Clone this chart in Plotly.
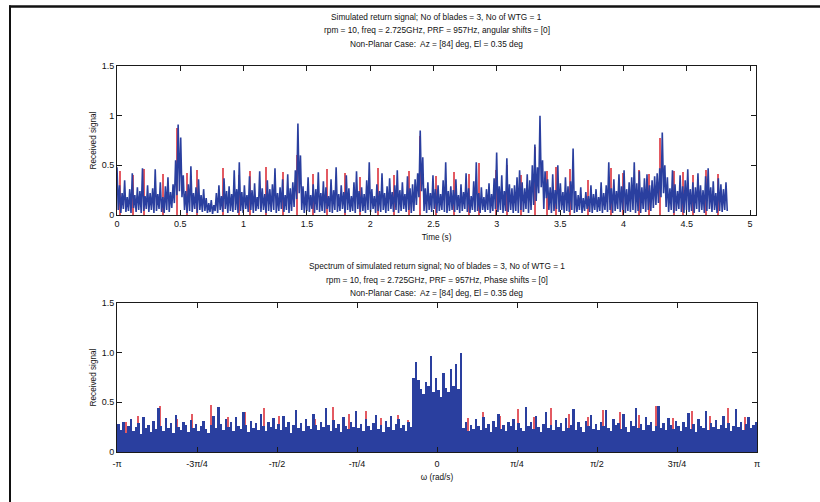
import numpy as np
import plotly.graph_objects as go

# ---------------- data ----------------
top_title = ["Simulated return signal; No of blades = 3, No of WTG = 1",
             "rpm = 10, freq = 2.725GHz, PRF = 957Hz, angular shifts = [0]",
             "Non-Planar Case:  Az = [84] deg, El = 0.35 deg"]
bottom_title = ["Spectrum of simulated return signal; No of blades = 3, No of WTG = 1",
                "rpm = 10, freq = 2.725GHz, PRF = 957Hz, Phase shifts = [0]",
                "Non-Planar Case:  Az = [84] deg, El = 0.35 deg"]

time_end = 4.82  # s, last sample of the received signal

# received signal, read column by column (alternating local peak / local trough)
received_signal = [
    0.48,0.05,0.30,0.02,0.22,0.06,0.35,0.03,0.18,0.04,0.26,0.02,0.42,0.07,0.20,0.03,0.28,0.05,0.24,0.02,0.47,0.04,0.19,0.06,
    0.30,0.03,0.22,0.05,0.27,0.02,0.46,0.04,0.21,0.06,0.33,0.03,0.18,0.02,0.29,0.05,0.38,0.03,0.23,0.07,0.31,0.12,0.55,0.20,
    0.91,0.24,0.78,0.18,0.40,0.05,0.24,0.02,0.31,0.04,0.49,0.03,0.22,0.06,0.28,0.02,0.36,0.05,0.20,0.03,0.26,0.04,0.17,0.02,
    0.12,0.03,0.15,0.01,0.10,0.04,0.22,0.02,0.30,0.05,0.19,0.03,0.37,0.06,0.24,0.02,0.29,0.04,0.21,0.03,0.45,0.05,0.26,0.02,
    0.53,0.04,0.23,0.02,0.30,0.06,0.20,0.03,0.39,0.05,0.25,0.02,0.32,0.04,0.18,0.06,0.44,0.03,0.27,0.05,0.21,0.02,0.35,0.04,
    0.26,0.03,0.31,0.05,0.47,0.02,0.22,0.04,0.28,0.06,0.36,0.03,0.20,0.05,0.41,0.02,0.27,0.04,0.33,0.08,0.45,0.16,0.92,0.22,
    0.60,0.05,0.29,0.02,0.24,0.04,0.38,0.03,0.20,0.06,0.31,0.02,0.26,0.05,0.43,0.03,0.22,0.04,0.34,0.02,0.28,0.06,0.19,0.03,
    0.36,0.02,0.25,0.05,0.48,0.03,0.21,0.04,0.30,0.06,0.23,0.02,0.40,0.05,0.27,0.03,0.19,0.04,0.33,0.02,0.44,0.06,0.24,0.03,
    0.28,0.04,0.21,0.02,0.35,0.05,0.53,0.03,0.26,0.06,0.19,0.02,0.31,0.04,0.24,0.03,0.42,0.05,0.22,0.02,0.29,0.04,0.37,0.06,
    0.23,0.03,0.30,0.05,0.45,0.02,0.25,0.04,0.33,0.06,0.21,0.03,0.39,0.05,0.27,0.02,0.31,0.04,0.36,0.10,0.42,0.18,0.85,0.24,
    0.58,0.04,0.27,0.02,0.33,0.05,0.22,0.03,0.40,0.06,0.26,0.02,0.30,0.04,0.21,0.05,0.35,0.03,0.53,0.02,0.24,0.04,0.29,0.05,
    0.25,0.03,0.36,0.05,0.20,0.02,0.31,0.04,0.23,0.06,0.42,0.03,0.27,0.02,0.19,0.05,0.34,0.03,0.53,0.04,0.22,0.02,0.28,0.05,
    0.18,0.03,0.26,0.05,0.32,0.02,0.21,0.04,0.37,0.06,0.63,0.03,0.29,0.05,0.40,0.02,0.24,0.04,0.57,0.03,0.31,0.05,0.27,0.02,
    0.30,0.04,0.38,0.02,0.45,0.05,0.33,0.03,0.27,0.06,0.41,0.02,0.35,0.05,0.50,0.10,0.71,0.14,0.48,0.22,1.00,0.28,0.55,0.06,
    0.44,0.17,0.36,0.05,0.28,0.02,0.41,0.04,0.25,0.06,0.50,0.03,0.32,0.05,0.23,0.02,0.38,0.04,0.29,0.03,0.34,0.05,0.67,0.02,
    0.24,0.03,0.20,0.05,0.28,0.02,0.17,0.04,0.23,0.06,0.19,0.03,0.30,0.02,0.21,0.05,0.26,0.03,0.18,0.04,0.33,0.02,0.22,0.05,
    0.30,0.03,0.53,0.05,0.27,0.02,0.36,0.04,0.24,0.06,0.41,0.03,0.29,0.05,0.45,0.02,0.26,0.04,0.33,0.03,0.38,0.05,0.53,0.02,
    0.32,0.04,0.44,0.02,0.28,0.06,0.37,0.03,0.41,0.05,0.30,0.04,0.35,0.07,0.39,0.10,0.42,0.12,0.47,0.18,0.83,0.22,0.50,0.08,
    0.38,0.03,0.27,0.05,0.45,0.02,0.31,0.04,0.24,0.06,0.40,0.03,0.29,0.02,0.35,0.05,0.46,0.03,0.26,0.04,0.33,0.02,0.28,0.06,
    0.42,0.03,0.30,0.05,0.25,0.02,0.39,0.04,0.47,0.06,0.28,0.03,0.34,0.05,0.22,0.02,0.37,0.04,0.31,0.03,0.26,0.05,0.33,0.04,
]

red_time = [0.02,0.13,0.21,0.36,0.47,0.55,0.63,0.84,0.96,1.05,1.18,1.31,1.42,1.55,1.66,
            1.80,1.92,2.06,2.19,2.31,2.39,2.52,2.66,2.78,2.86,2.99,3.08,3.19,3.30,3.40,
            3.47,3.58,3.72,3.90,4.00,4.12,4.20,4.29,4.40,4.47,4.55,4.65,4.75]
red_signal = [0.44,0.40,0.46,0.41,0.88,0.42,0.45,0.47,0.40,0.44,0.48,0.43,0.60,0.41,0.46,
              0.42,0.38,0.47,0.40,0.44,0.80,0.39,0.43,0.41,0.52,0.45,0.50,0.40,0.68,0.44,
              0.48,0.46,0.35,0.47,0.42,0.45,0.41,0.78,0.44,0.43,0.40,0.45,0.41]

spectrum = [
    0.28,0.22,0.30,0.19,0.26,0.33,0.21,0.25,0.29,0.18,0.35,0.24,0.27,0.20,0.31,0.23,
    0.44,0.26,0.21,0.34,0.24,0.29,0.19,0.37,0.25,0.22,0.30,0.27,0.20,0.32,0.24,0.28,
    0.21,0.26,0.31,0.23,0.19,0.27,0.36,0.24,0.45,0.28,0.22,0.33,0.25,0.30,0.21,0.35,
    0.26,0.23,0.40,0.27,0.20,0.31,0.24,0.29,0.22,0.38,0.26,0.21,0.30,0.25,0.34,0.23,
    0.28,0.22,0.36,0.25,0.30,0.19,0.27,0.42,0.24,0.29,0.21,0.33,0.26,0.23,0.38,0.27,
    0.22,0.30,0.25,0.44,0.27,0.21,0.32,0.24,0.28,0.20,0.35,0.26,0.23,0.30,0.25,0.41,
    0.24,0.28,0.21,0.33,0.26,0.22,0.29,0.37,0.23,0.27,0.20,0.31,0.25,0.36,0.22,0.28,
    0.33,0.24,0.27,0.21,0.30,0.25,0.74,0.91,0.72,0.63,0.58,0.70,0.66,0.97,0.60,0.75,
    0.62,0.55,0.80,0.64,0.60,0.84,0.66,0.89,0.63,1.00,0.24,0.30,0.21,0.27,0.23,0.33,
    0.26,0.22,0.35,0.24,0.28,0.20,0.31,0.25,0.38,0.23,0.27,0.21,0.30,0.26,0.33,0.22,
    0.29,0.24,0.21,0.45,0.26,0.30,0.23,0.36,0.25,0.20,0.28,0.40,0.24,0.27,0.22,0.32,
    0.25,0.29,0.21,0.34,0.24,0.27,0.43,0.22,0.30,0.25,0.20,0.31,0.26,0.37,0.23,0.28,
    0.22,0.30,0.26,0.42,0.24,0.21,0.33,0.27,0.29,0.23,0.38,0.25,0.20,0.31,0.26,0.44,
    0.24,0.28,0.22,0.35,0.27,0.30,0.21,0.26,0.46,0.24,0.29,0.22,0.34,0.27,0.23,0.31,
    0.26,0.21,0.30,0.25,0.39,0.23,0.28,0.20,0.33,0.26,0.24,0.41,0.22,0.29,0.25,0.32,
    0.23,0.27,0.36,0.24,0.29,0.21,0.26,0.43,0.25,0.30,0.22,0.28,0.35,0.24,0.27,0.30,
]

red_omega = [-3.05,-2.93,-2.72,-2.55,-2.40,-2.22,-2.05,-1.88,-1.70,-1.55,-1.38,-1.20,
             -1.02,-0.86,-0.70,-0.55,-0.38,-0.28,0.30,0.45,0.62,0.80,0.95,1.12,1.30,
             1.48,1.63,1.80,1.98,2.15,2.32,2.50,2.68,2.86,3.02]
red_spectrum = [0.30,0.36,0.46,0.33,0.38,0.47,0.35,0.40,0.44,0.36,0.42,0.33,
                0.45,0.38,0.41,0.34,0.37,0.32,0.34,0.40,0.36,0.43,0.35,0.44,0.38,
                0.35,0.42,0.40,0.37,0.46,0.34,0.41,0.36,0.44,0.35]

time_ticks = [0, 0.5, 1, 1.5, 2, 2.5, 3, 3.5, 4, 4.5, 5]
time_tick_labels = ["0", "0.5", "1", "1.5", "2", "2.5", "3", "3.5", "4", "4.5", "5"]
y_ticks = [0, 0.5, 1, 1.5]
y_labels_top = ["0", "0.5", "1", "1.5"]
y_labels_bottom = ["0", "0.5", "1.0", "1.5"]
omega_ticks = [-np.pi + k * np.pi / 4 for k in range(9)]
omega_labels = ["-π", "-3π/4", "-π/2", "-π/4", "0", "π/4", "π/2", "3π/4", "π"]

# ---------------- figure ----------------
BLUE = "#2a3f9f"
RED = "#e35a62"
FONT = "Liberation Sans, Arial, sans-serif"
W, H = 820, 502
ML, MR, MT, MB = 117, 63, 66, 50
PH = H - MT - MB


def py(ypix):
    return (H - MB - ypix) / PH


def px(xpix):
    return (xpix - ML) / (W - ML - MR)


t = np.arange(len(received_signal)) * time_end / (len(received_signal) - 1)
nbin = len(spectrum)
bw = 2 * np.pi / nbin
omega = -np.pi + (np.arange(nbin) + 0.5) * bw

fig = go.Figure()
fig.add_trace(go.Bar(x=red_time, y=red_signal, width=0.008, marker=dict(color=RED, line=dict(width=0)),
                     xaxis="x", yaxis="y"))
fig.add_trace(go.Scatter(x=t, y=received_signal, mode="lines", line=dict(color=BLUE, width=1.6),
                         xaxis="x", yaxis="y"))
fig.add_trace(go.Bar(x=red_omega, y=red_spectrum, width=0.011, marker=dict(color=RED, line=dict(width=0)),
                     xaxis="x2", yaxis="y2"))
fig.add_trace(go.Bar(x=omega, y=spectrum, width=bw, marker=dict(color=BLUE, line=dict(width=0)),
                     xaxis="x2", yaxis="y2"))

axis_common = dict(showline=True, linecolor="#1a1a1a", linewidth=1, mirror="ticks",
                   ticks="inside", ticklen=5, tickcolor="#1a1a1a", showgrid=False,
                   zeroline=False, automargin=False,
                   tickfont=dict(size=9, color="#111", family=FONT))

fig.update_layout(
    width=W, height=H,
    margin=dict(l=ML, r=MR, t=MT, b=MB),
    paper_bgcolor="white", plot_bgcolor="white",
    showlegend=False, barmode="overlay", bargap=0,
    font=dict(family=FONT, size=9, color="#111"),
    xaxis=dict(domain=[0, px(756)], range=[0, 5.047], tickvals=time_ticks, ticktext=time_tick_labels,
               anchor="y", title=dict(text="Time (s)", font=dict(size=8.2), standoff=6), **axis_common),
    yaxis=dict(domain=[py(215), 1], range=[0, 1.5], tickvals=y_ticks, ticktext=y_labels_top,
               anchor="x", title=dict(text="Received signal", font=dict(size=8.2), standoff=3), **axis_common),
    xaxis2=dict(domain=[0, 1], range=[-np.pi, np.pi], tickvals=omega_ticks, ticktext=omega_labels,
                anchor="y2", ticklabelstandoff=3,
                title=dict(text="ω (rad/s)", font=dict(size=8.2), standoff=6), **axis_common),
    yaxis2=dict(domain=[0, py(303)], range=[0, 1.5], tickvals=y_ticks, ticktext=y_labels_bottom,
                anchor="x2", title=dict(text="Received signal", font=dict(size=8.2), standoff=3), **axis_common),
)

ann = []
for txt, yp in zip(top_title, [17, 30.5, 44]):
    ann.append(dict(text=txt, x=px(436.5), y=py(yp), xref="paper", yref="paper", showarrow=False,
                    xanchor="center", yanchor="middle", font=dict(size=8.3, family=FONT, color="#111")))
for txt, yp in zip(bottom_title, [266, 280, 292.5]):
    ann.append(dict(text=txt, x=px(436.5), y=py(yp), xref="paper", yref="paper", showarrow=False,
                    xanchor="center", yanchor="middle", font=dict(size=8.3, family=FONT, color="#111")))
fig.update_layout(annotations=ann)

# outer frame of the figure: top and left edges
fig.add_shape(type="line", xref="paper", yref="paper", x0=px(9), x1=px(820), y0=py(6.5), y1=py(6.5),
              line=dict(color="#111", width=2.5), layer="above")
fig.add_shape(type="line", xref="paper", yref="paper", x0=px(10), x1=px(10), y0=py(5.5), y1=py(502),
              line=dict(color="#111", width=2), layer="above")

fig.write_html("out.html", config={"displayModeBar": False},
               post_script="document.body.style.margin='0';")
